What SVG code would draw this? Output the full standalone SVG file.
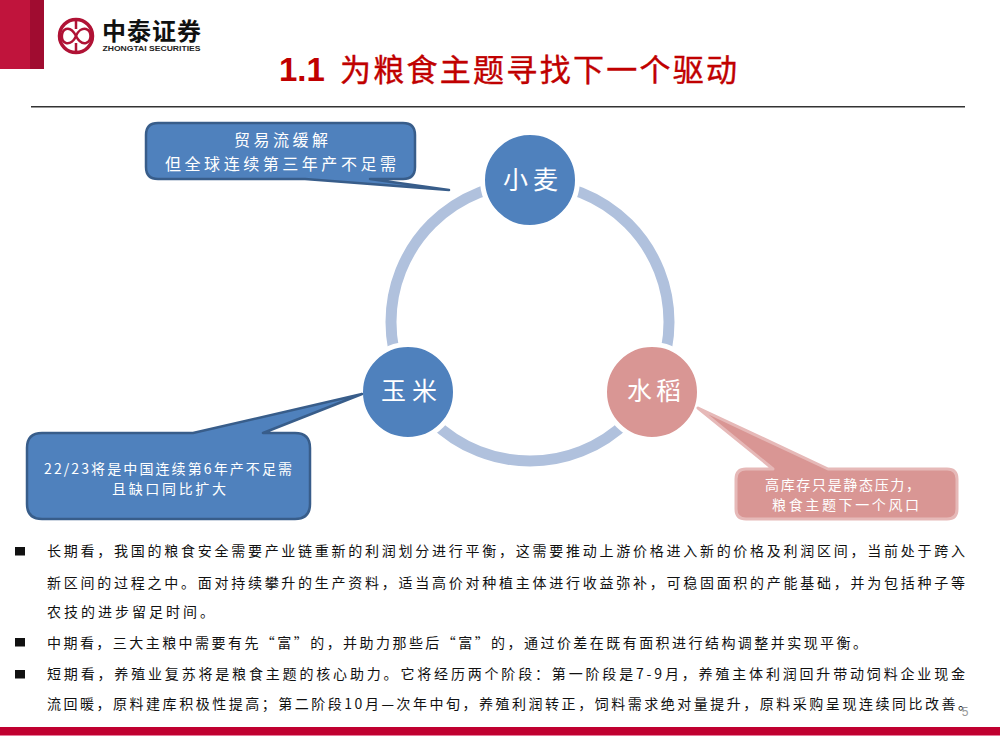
<svg xmlns="http://www.w3.org/2000/svg" width="1000" height="750" viewBox="0 0 1000 750">
<style>
text{font-family:"Noto Sans CJK SC","Noto Sans",sans-serif}
.nl{fill:#fff;font-size:25px}
.cl{fill:#fff;font-size:16px}
.cs{fill:#fff;font-size:14px}
.b{fill:#111;font-size:14px}
.blue{fill:#4f81bd;stroke:#385d8a;stroke-width:2.5px;stroke-linejoin:round}
.pink{fill:#d99694;stroke:#e6b9b8;stroke-width:3px;stroke-linejoin:round}
.hole{stroke:#fff;stroke-width:5px}
</style>
<rect x="0" y="0" width="30" height="69" fill="#c0143c"/>
<rect x="30" y="0" width="14" height="69" fill="#a00c30"/>
<g id="logo">
<circle cx="76" cy="36" r="16.500" fill="none" stroke="#b01235" stroke-width="3.500"/>
<path d="M76 20V29M76 43V52M76 36C73 30 69 28 66 29C61 31 60 41 66 43C70 44 74 41 76 36C78 31 82 28 86 29C92 31 92 41 86 43C82 44 79 42 76 36Z" fill="none" stroke="#b01235" stroke-width="2.500"/>
<text x="102" y="40" font-size="24" font-weight="700" fill="#111" textLength="99">中泰证券</text>
<text x="102.500" y="51" font-size="8" font-weight="700" fill="#222" textLength="98" lengthAdjust="spacingAndGlyphs" style="font-family:'Liberation Sans',sans-serif">ZHONGTAI SECURITIES</text>
</g>
<g id="title">
<text x="279" y="81" font-size="33" font-weight="700" fill="#c00000" style="font-family:'Liberation Sans',sans-serif">1.1</text>
<text x="340" y="81" font-size="31" fill="#c00000" stroke="#c00000" stroke-width="0.400" textLength="397">为粮食主题寻找下一个驱动</text>
</g>
<rect x="31" y="106" width="934" height="1.500" fill="#333"/>
<g id="connectors">
<circle cx="530" cy="322" r="139" fill="none" stroke="#b0c1dd" stroke-width="11"/>
</g>
<g id="node-wheat">
<circle class="hole" cx="530" cy="180" r="47.500" fill="#4f81bd"/>
<text class="nl" x="503" y="189" textLength="55">小麦</text>
</g>
<g id="node-corn">
<circle class="hole" cx="408" cy="392" r="47.500" fill="#4f81bd"/>
<text class="nl" x="381" y="400" textLength="56">玉米</text>
</g>
<g id="node-rice">
<circle class="hole" cx="652" cy="392" r="47.500" fill="#d99694"/>
<text class="nl" x="627" y="400" textLength="54">水稻</text>
</g>
<g id="callout-wheat">
<path class="blue" d="M158 123H403Q415 123 415 135V167Q415 179 403 179H370L449 190L305 179H158Q146 179 146 167V135Q146 123 158 123Z"/>
<text class="cl" x="234" y="146" textLength="94">贸易流缓解</text>
<text class="cl" x="165" y="170" textLength="231">但全球连续第三年产不足需</text>
</g>
<g id="callout-corn">
<path class="blue" d="M42 433H193L362 394L263 433H295Q310 433 310 448V504Q310 519 295 519H42Q27 519 27 504V448Q27 433 42 433Z"/>
<text class="cs" x="44" y="474" textLength="248">22/23将是中国连续第6年产不足需</text>
<text class="cs" x="112" y="494" textLength="114">且缺口同比扩大</text>
</g>
<g id="callout-rice">
<path class="pink" d="M746 469H773L698 408L828 469H947Q957 469 957 479V509Q957 519 947 519H746Q736 519 736 509V479Q736 469 746 469Z"/>
<text class="cs" x="765" y="490" textLength="155">高库存只是静态压力，</text>
<text class="cs" x="772" y="510" textLength="147">粮食主题下一个风口</text>
</g>
<g id="body">
<rect x="15" y="547" width="10" height="8.500" fill="#111"/>
<rect x="15" y="638" width="10" height="8.500" fill="#111"/>
<rect x="15" y="670" width="10" height="8.500" fill="#111"/>
<text class="b" x="47" y="556" textLength="918">长期看，我国的粮食安全需要产业链重新的利润划分进行平衡，这需要推动上游价格进入新的价格及利润区间，当前处于跨入</text>
<text class="b" x="47" y="588" textLength="918">新区间的过程之中。面对持续攀升的生产资料，适当高价对种植主体进行收益弥补，可稳固面积的产能基础，并为包括种子等</text>
<text class="b" x="47" y="617" textLength="167">农技的进步留足时间。</text>
<text class="b" x="47" y="648" textLength="820">中期看，三大主粮中需要有先“富”的，并助力那些后“富”的，通过价差在既有面积进行结构调整并实现平衡。</text>
<text class="b" x="47" y="679" textLength="918">短期看，养殖业复苏将是粮食主题的核心助力。它将经历两个阶段：第一阶段是7-9月，养殖主体利润回升带动饲料企业现金</text>
<text class="b" x="47" y="709" textLength="925">流回暖，原料建库积极性提高；第二阶段10月—次年中旬，养殖利润转正，饲料需求绝对量提升，原料采购呈现连续同比改善。</text>
<text x="965" y="716" font-size="12" text-anchor="middle" fill="#999" style="font-family:'Liberation Sans',sans-serif">5</text>
</g>
<rect x="0" y="727" width="1000" height="8" fill="#c00030"/>
<rect x="0" y="735" width="1000" height="1" fill="#e8799a"/>
</svg>
